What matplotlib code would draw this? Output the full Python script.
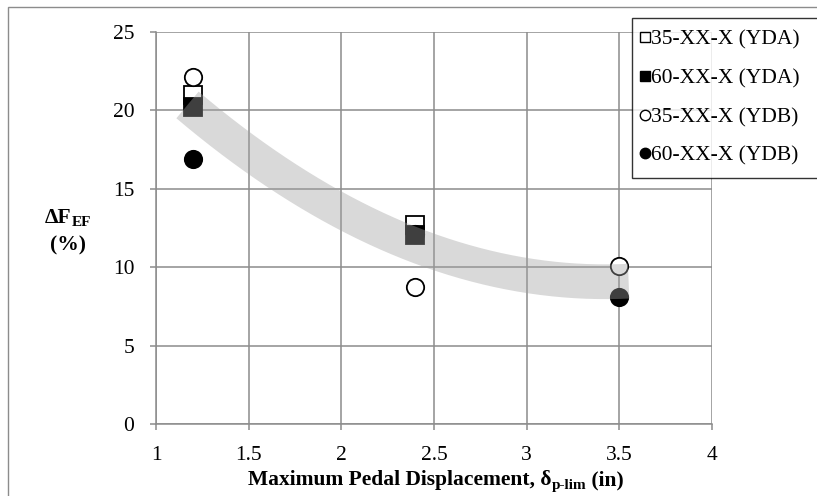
import numpy as np
import matplotlib
matplotlib.use("Agg")
import matplotlib.pyplot as plt
from matplotlib.patches import Rectangle
from matplotlib.lines import Line2D

plt.rcParams['font.family'] = ['Liberation Serif', 'DejaVu Serif']

# ---------------- data ----------------
series_labels = ["35-XX-X (YDA)", "60-XX-X (YDA)", "35-XX-X (YDB)", "60-XX-X (YDB)"]
x_35_yda = [1.2, 2.4]
y_35_yda = [21.0, 12.7]
x_60_yda = [1.2, 2.4]
y_60_yda = [20.2, 12.05]
x_35_ydb = [1.2, 2.4, 3.5]
y_35_ydb = [22.1, 8.75, 10.05]
x_60_ydb = [1.2, 2.4, 3.5]
y_60_ydb = [16.9, 12.1, 8.12]
x_ticks = [1, 1.5, 2, 2.5, 3, 3.5, 4]
y_ticks = [0, 5, 10, 15, 20, 25]
trend_range = (1.17, 3.55)

W, H = 817, 496
FS = 15.5
SUB = 11
fig = plt.figure(figsize=(W / 100, H / 100), dpi=100)
ax = fig.add_axes([156 / W, 1 - 424 / H, (712 - 156) / W, (424 - 32) / H])

grid_c = '#8c8c8c'
ax.set_xlim(1, 4)
ax.set_ylim(0, 25)
ax.set_xticks(x_ticks)
ax.set_yticks(y_ticks)
ax.set_xticklabels([f"{v:g}" for v in x_ticks])
ax.set_yticklabels([f"{v:g}" for v in y_ticks])
ax.grid(True, color=grid_c, linewidth=1.1, zorder=0)
ax.set_axisbelow(True)
for s in ['top', 'right']:
    ax.spines[s].set_visible(False)
for s in ['left', 'bottom']:
    ax.spines[s].set_color(grid_c)
    ax.spines[s].set_linewidth(1.1)
ax.tick_params(axis='both', direction='out', length=4.5, width=1.1, color=grid_c,
               labelsize=FS, labelcolor='black')
ax.tick_params(axis='x', pad=11.5)
ax.tick_params(axis='y', pad=11)

ms = 12.5
mew = 1.3
ax.plot(x_35_yda, y_35_yda, linestyle='none', marker='s', ms=ms, mfc='white', mec='black', mew=mew, zorder=3, clip_on=False)
ax.plot(x_60_yda, y_60_yda, linestyle='none', marker='s', ms=ms, mfc='black', mec='black', mew=mew, zorder=3, clip_on=False)
ax.plot(x_35_ydb, y_35_ydb, linestyle='none', marker='o', ms=ms, mfc='white', mec='black', mew=mew, zorder=3, clip_on=False)
ax.plot(x_60_ydb, y_60_ydb, linestyle='none', marker='o', ms=ms, mfc='black', mec='black', mew=mew, zorder=3, clip_on=False)

# trend band: 2nd-order polynomial trendline of all points
all_x = np.array(x_35_yda + x_60_yda + x_35_ydb + x_60_ydb)
all_y = np.array(y_35_yda + y_60_yda + y_35_ydb + y_60_ydb)
coef = np.polyfit(all_x, all_y, 2)
tx = np.linspace(trend_range[0], trend_range[1], 200)
ax.plot(tx, np.polyval(coef, tx), color='#a0a0a0', alpha=0.4, linewidth=25,
        solid_capstyle='butt', zorder=4)

# legend
handles = [
    Line2D([], [], linestyle='none', marker='s', ms=7.5, mfc='white', mec='black', mew=1),
    Line2D([], [], linestyle='none', marker='s', ms=7.5, mfc='black', mec='black', mew=1),
    Line2D([], [], linestyle='none', marker='o', ms=7.5, mfc='white', mec='black', mew=1),
    Line2D([], [], linestyle='none', marker='o', ms=7.5, mfc='black', mec='black', mew=1),
]
leg = fig.legend(handles, series_labels, loc='upper left',
                 bbox_to_anchor=(632 / W, 1 - 18 / H, 200 / W, 0), bbox_transform=fig.transFigure,
                 mode='expand',
                 fontsize=FS, frameon=True, fancybox=False, borderaxespad=0,
                 borderpad=0.55, handlelength=0.1, handletextpad=0.25,
                 labelspacing=0.86)
leg.get_frame().set_edgecolor('black')
leg.get_frame().set_linewidth(1.0)

# outer chart frame
fig.patches.append(Rectangle((8 / W, -0.2), 1.5, 1 - 7 / H + 0.2, transform=fig.transFigure,
                             fill=False, edgecolor='#8c8c8c', linewidth=1.0))


def compose(parts, x_center_px, baseline_px):
    renderer = fig.canvas.get_renderer()
    texts = []
    for s, size, dy in parts:
        t = fig.text(0, 0, s, fontsize=size, fontweight='bold', ha='left', va='baseline',
                     transform=None)
        texts.append((t, dy))
    widths = [t.get_window_extent(renderer).width for t, _ in texts]
    total = sum(widths)
    x = x_center_px - total / 2
    for (t, dy), w in zip(texts, widths):
        t.set_position((x, H - baseline_px - dy))
        x += w


compose([("Maximum Pedal Displacement, δ", FS, 0), ("p-lim", SUB, 4), (" (in)", FS, 0)], 436, 485)
compose([("ΔF", FS, 0), ("EF", SUB, 3), ], 68, 223)
compose([("(%)", FS, 0)], 68, 250)

fig.savefig("out.png", dpi=100)
